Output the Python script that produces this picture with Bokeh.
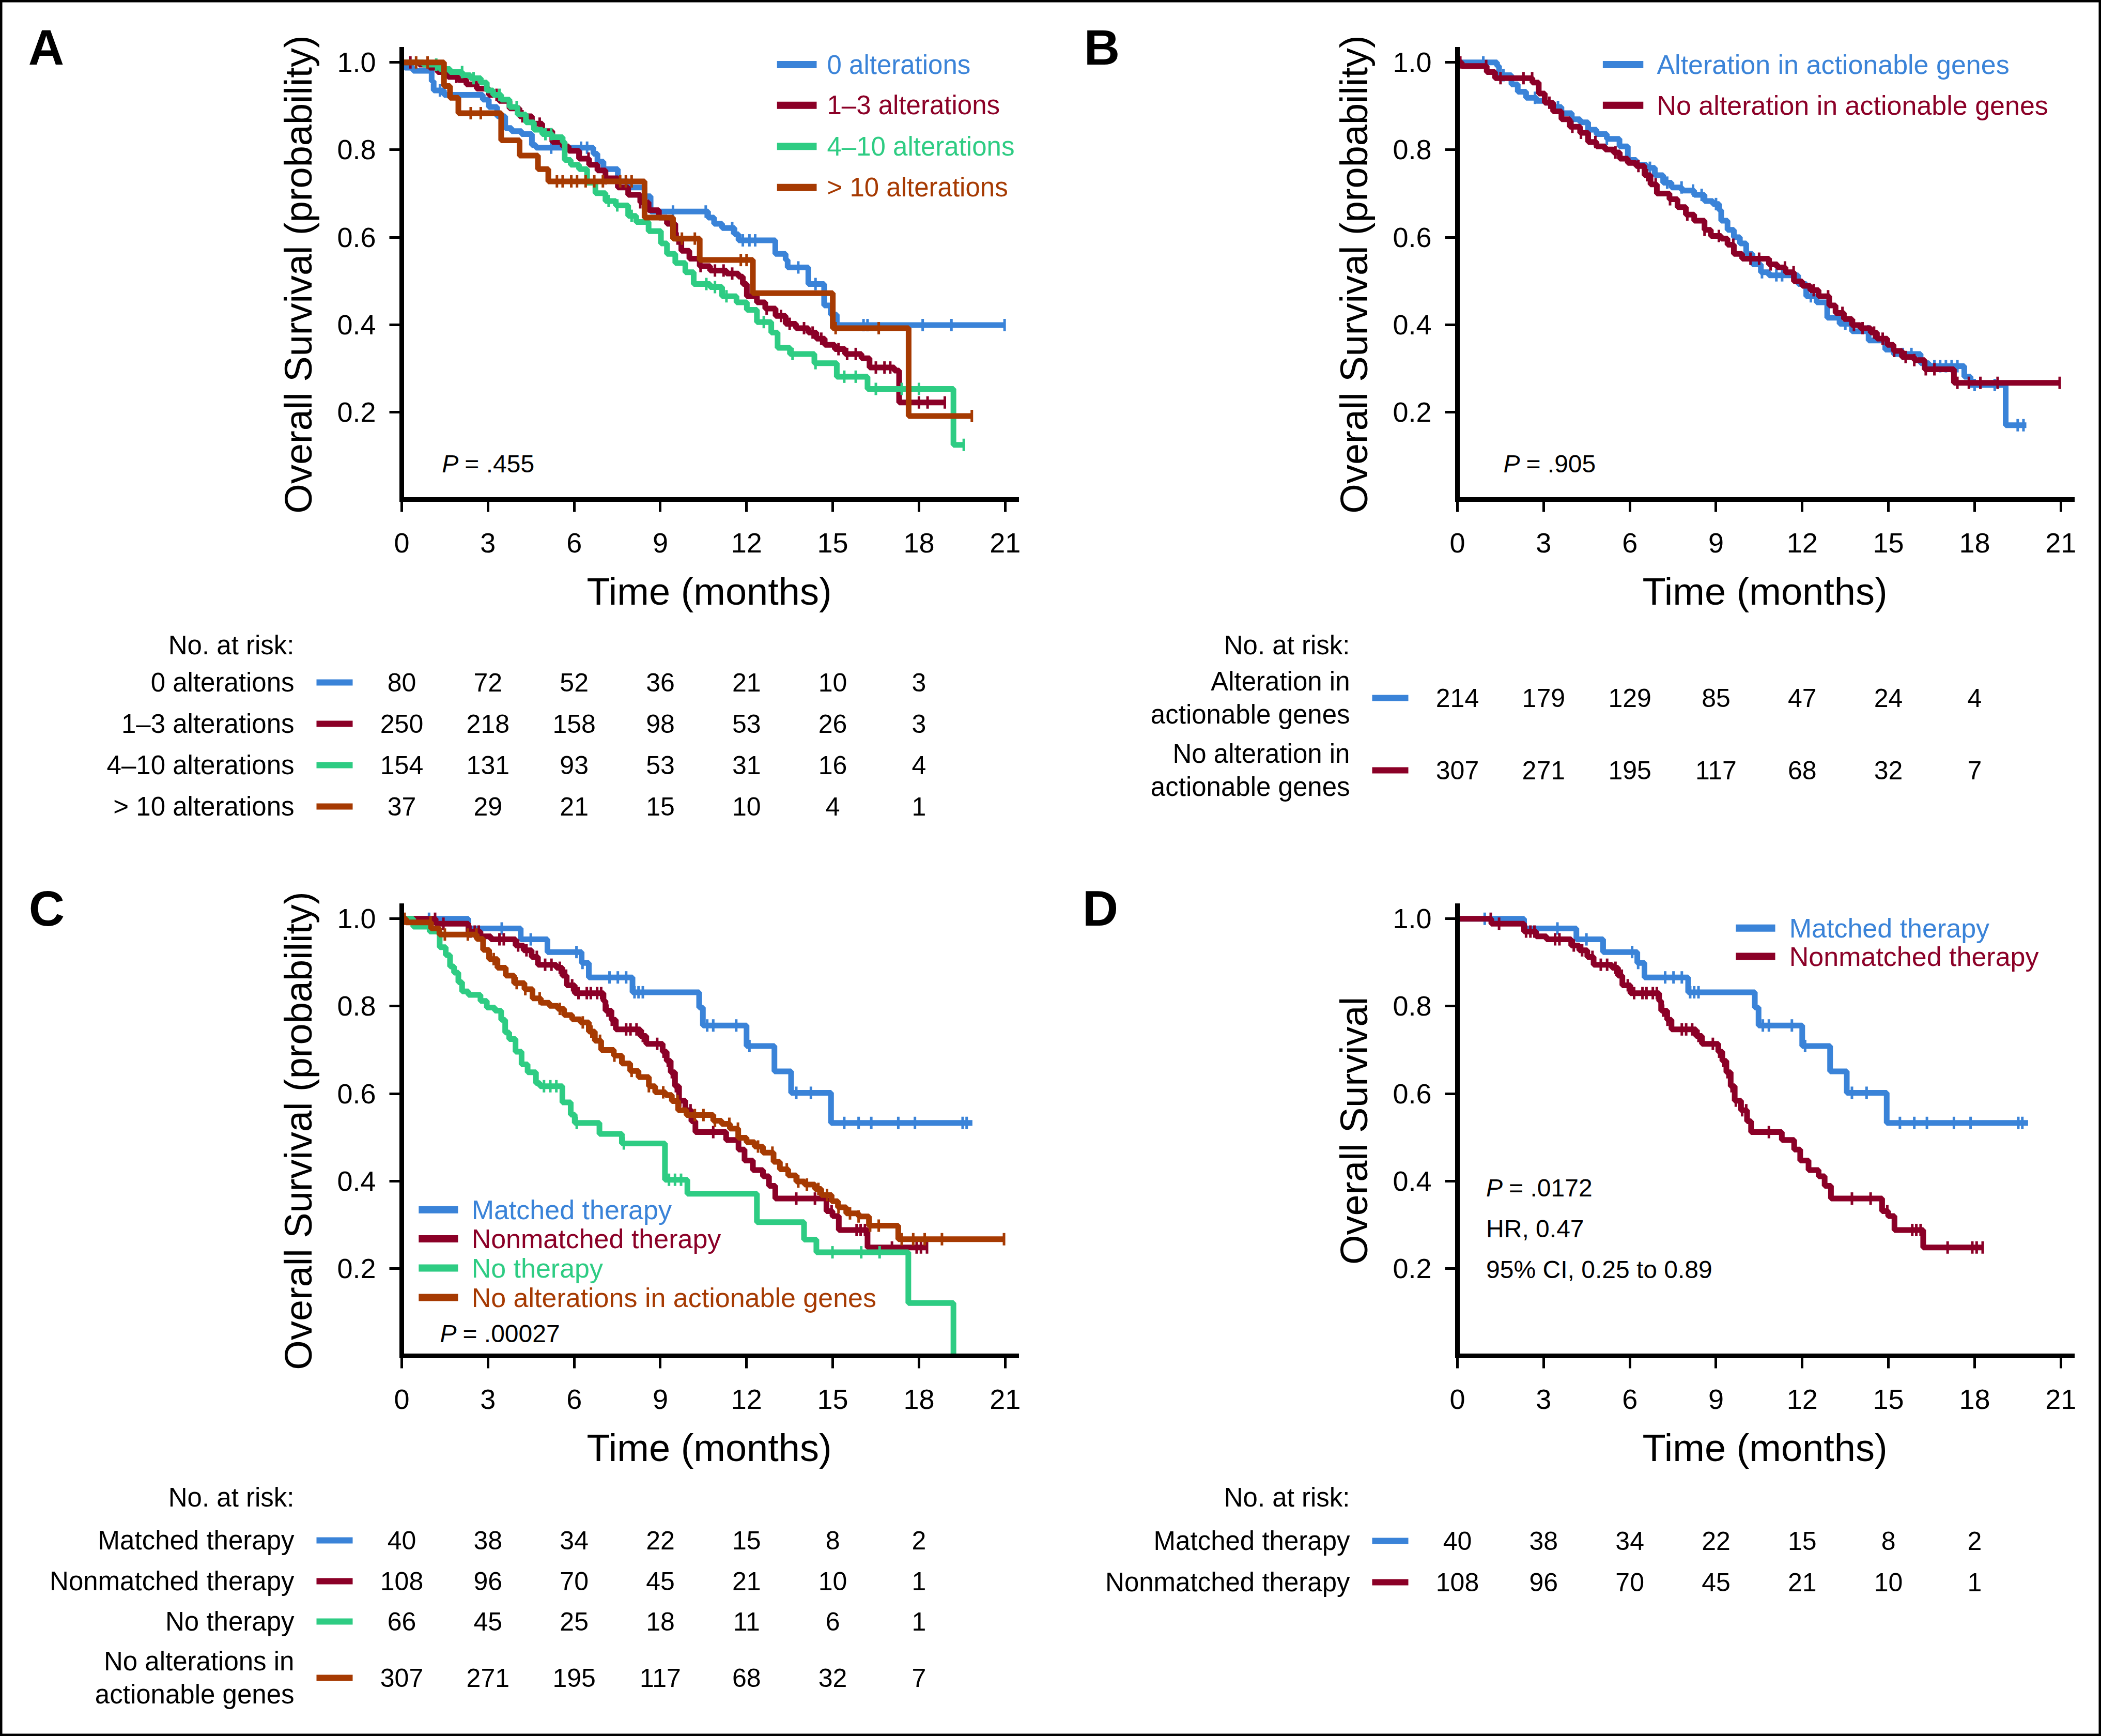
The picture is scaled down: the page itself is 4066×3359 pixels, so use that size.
import numpy as np
from bokeh.plotting import figure
from bokeh.models import Range1d, FixedTicker, NumeralTickFormatter
from bokeh.embed import file_html
from bokeh.resources import INLINE
from bokeh.core.properties import value

FONT = "Liberation Sans"
BLUE = "#3a83d8"
RED = "#8b0027"
GREEN = "#2ecc83"
ORANGE = "#a63a02"

X_TICKS = [0, 3, 6, 9, 12, 15, 18, 21]
Y_TICKS = [0.2, 0.4, 0.6, 0.8, 1.0]
RISK_TIMES = [0, 3, 6, 9, 12, 15, 18]

# ---------------- Panel A: number of alterations ----------------
A_ZERO = [(0, 1.0), (0.11, 0.988), (0.40, 0.981), (1.04, 0.957), (1.11, 0.936), (1.47, 0.926),
          (2.82, 0.915), (3.03, 0.898), (3.32, 0.877), (3.60, 0.850), (3.82, 0.843), (4.17, 0.836),
          (4.53, 0.811), (4.67, 0.805), (6.67, 0.791), (6.81, 0.773), (7.02, 0.756), (7.52, 0.728),
          (7.88, 0.714), (8.45, 0.694), (8.66, 0.659), (10.66, 0.645), (10.87, 0.631), (11.15, 0.621),
          (11.58, 0.607), (11.72, 0.593), (13.00, 0.562), (13.36, 0.548), (13.43, 0.531), (14.15, 0.493),
          (14.70, 0.444), (14.93, 0.423), (15.14, 0.399), (21.0, 0.399)]
A_ZERO_CENS = [1.33, 5.2, 6.24, 6.45, 7.88, 9.44, 10.58, 11.5, 11.87, 12.1, 12.3, 13.8, 14.4,
               16.07, 16.21, 18.13, 19.13, 20.98]

A_ONE3 = [(0, 1.0), (0.61, 0.995), (0.97, 0.988), (1.25, 0.978), (1.61, 0.967), (1.97, 0.960),
          (2.25, 0.950), (2.61, 0.940), (3.03, 0.926), (3.39, 0.912), (3.75, 0.895), (4.10, 0.877),
          (4.53, 0.860), (4.89, 0.843), (5.24, 0.818), (5.60, 0.808), (5.81, 0.798), (6.17, 0.780),
          (6.52, 0.766), (6.81, 0.753), (7.09, 0.735), (7.52, 0.714), (7.88, 0.697), (8.30, 0.680),
          (8.59, 0.662), (8.95, 0.645), (9.23, 0.631), (9.52, 0.597), (9.73, 0.569), (10.01, 0.551),
          (10.37, 0.534), (10.73, 0.524), (11.30, 0.517), (11.72, 0.510), (11.87, 0.493), (12.01, 0.465),
          (12.36, 0.451), (12.65, 0.437), (13.01, 0.420), (13.36, 0.402), (13.72, 0.392), (14.15, 0.382),
          (14.43, 0.368), (14.72, 0.354), (15.07, 0.344), (15.43, 0.333), (16.00, 0.323), (16.28, 0.302),
          (17.14, 0.295), (17.31, 0.222), (18.92, 0.222)]
A_ONE3_CENS = [0.3, 1.9, 2.6, 3.3, 4.2, 4.8, 6.5, 7.1, 8.3, 9.6, 10.4, 10.9, 11.2, 11.5, 12.7, 13.2,
               13.5, 14.0, 14.3, 14.6, 15.2, 15.5, 15.8, 16.5, 16.8, 17.0, 17.6, 18.0, 18.3, 18.9]

A_FOUR10 = [(0, 1.0), (0.75, 0.995), (1.32, 0.985), (1.68, 0.978), (2.11, 0.971), (2.39, 0.964),
            (2.75, 0.954), (2.96, 0.936), (3.18, 0.926), (3.46, 0.915), (3.75, 0.898), (4.03, 0.881),
            (4.32, 0.863), (4.60, 0.846), (4.89, 0.836), (5.24, 0.829), (5.60, 0.818), (5.67, 0.777),
            (5.88, 0.766), (6.17, 0.756), (6.45, 0.725), (6.74, 0.701), (7.09, 0.683), (7.45, 0.673),
            (7.88, 0.649), (8.16, 0.635), (8.59, 0.614), (9.02, 0.586), (9.23, 0.562), (9.52, 0.541),
            (9.87, 0.520), (10.16, 0.493), (10.73, 0.486), (11.15, 0.465), (11.65, 0.451), (12.01, 0.434),
            (12.36, 0.406), (12.86, 0.382), (13.08, 0.347), (13.51, 0.333), (14.36, 0.312), (15.14, 0.281),
            (16.21, 0.253), (19.20, 0.125), (19.56, 0.125)]
A_FOUR10_CENS = [0.0, 1.2, 2.1, 2.5, 3.4, 4.0, 5.0, 5.2, 7.2, 7.5, 8.0, 10.6, 10.9, 11.3, 12.6, 13.6,
                 14.4, 15.4, 15.8, 16.5, 17.4, 17.6, 18.0, 19.56]

A_OVER10 = [(0, 1.0), (1.47, 0.946), (1.68, 0.919), (1.97, 0.884), (3.46, 0.822), (4.10, 0.787),
            (4.74, 0.756), (5.10, 0.728), (8.45, 0.645), (9.44, 0.597), (10.37, 0.548), (12.22, 0.472),
            (15.0, 0.392), (17.64, 0.191), (19.84, 0.191)]
A_OVER10_CENS = [0.5, 0.9, 2.4, 2.75, 5.4, 5.6, 5.9, 6.1, 6.4, 6.7, 7.0, 7.6, 7.8, 8.0, 9.75, 10.2,
                 11.8, 12.0, 15.1, 16.6, 19.84]

A_LABELS = ["0 alterations", "1\u20133 alterations", "4\u201310 alterations", "> 10 alterations"]
A_RISK = [[80, 72, 52, 36, 21, 10, 3],
          [250, 218, 158, 98, 53, 26, 3],
          [154, 131, 93, 53, 31, 16, 4],
          [37, 29, 21, 15, 10, 4, 1]]

# ---------------- Panel B: actionable genes ----------------
B_ALT = [(0, 1.0), (1.38, 0.992), (1.45, 0.971), (1.88, 0.950), (2.10, 0.933), (2.39, 0.919),
         (2.75, 0.912), (3.04, 0.908), (3.33, 0.898), (3.62, 0.884), (3.98, 0.870), (4.27, 0.863),
         (4.55, 0.846), (4.84, 0.836), (5.20, 0.825), (5.64, 0.808), (5.93, 0.777), (6.22, 0.766),
         (6.58, 0.759), (6.87, 0.742), (7.16, 0.725), (7.45, 0.714), (7.81, 0.707), (8.24, 0.697),
         (8.60, 0.683), (8.89, 0.676), (9.11, 0.662), (9.18, 0.638), (9.40, 0.617), (9.62, 0.600),
         (9.83, 0.586), (10.05, 0.562), (10.27, 0.538), (10.56, 0.520), (10.84, 0.513), (11.86, 0.493),
         (12.14, 0.465), (12.50, 0.451), (12.87, 0.416), (13.30, 0.402), (13.73, 0.385), (14.31, 0.364),
         (14.89, 0.343), (15.18, 0.333), (16.12, 0.312), (16.41, 0.305), (17.64, 0.281), (17.86, 0.262),
         (19.08, 0.170), (19.80, 0.170)]
B_ALT_CENS = [0.9, 1.6, 2.7, 3.5, 4.0, 4.6, 5.2, 6.7, 7.3, 7.8, 8.2, 8.5, 9.0, 10.6, 11.1, 11.3, 12.3,
              13.5, 14.3, 15.5, 15.8, 16.6, 16.8, 17.0, 17.2, 17.4, 18.0, 18.7, 19.5, 19.7]

B_NOALT = [(0, 1.0), (0.15, 0.992), (1.02, 0.978), (1.31, 0.964), (2.61, 0.954), (2.83, 0.929),
           (3.04, 0.908), (3.33, 0.888), (3.62, 0.870), (3.91, 0.853), (4.27, 0.839), (4.55, 0.818),
           (4.84, 0.808), (5.14, 0.801), (5.43, 0.794), (5.65, 0.780), (5.93, 0.770), (6.22, 0.763),
           (6.51, 0.742), (6.72, 0.721), (6.94, 0.700), (7.38, 0.687), (7.66, 0.669), (7.95, 0.652),
           (8.24, 0.638), (8.60, 0.617), (8.82, 0.603), (9.18, 0.597), (9.40, 0.583), (9.62, 0.562),
           (9.91, 0.551), (10.84, 0.538), (11.13, 0.531), (11.42, 0.520), (11.71, 0.499), (12.00, 0.489),
           (12.28, 0.479), (12.57, 0.465), (12.94, 0.444), (13.16, 0.427), (13.45, 0.413), (13.73, 0.399),
           (14.02, 0.392), (14.38, 0.382), (14.60, 0.368), (14.96, 0.354), (15.18, 0.340), (15.47, 0.326),
           (15.90, 0.319), (16.26, 0.298), (17.28, 0.267), (20.96, 0.267)]
B_NOALT_CENS = [0.1, 1.0, 1.5, 2.3, 2.6, 3.2, 4.0, 4.3, 4.8, 5.5, 6.3, 6.6, 6.9, 7.4, 8.0, 8.6, 9.1,
                9.6, 10.2, 10.5, 10.9, 11.4, 11.7, 12.4, 12.9, 13.4, 13.8, 14.1, 14.5, 14.8, 15.2, 15.6,
                15.9, 16.3, 16.6, 17.4, 17.8, 18.2, 18.8, 20.96]

B_LABELS = ["Alteration in actionable genes", "No alteration in actionable genes"]
B_RISK_LABELS = ["Alteration in\nactionable genes", "No alteration in\nactionable genes"]
B_RISK = [[214, 179, 129, 85, 47, 24, 4],
          [307, 271, 195, 117, 68, 32, 7]]

# ---------------- Panels C and D: therapy groups ----------------
MATCHED = [(0, 1.0), (2.32, 0.978), (4.14, 0.953), (5.07, 0.924), (6.26, 0.899), (6.51, 0.866),
           (8.03, 0.832), (10.35, 0.797), (10.48, 0.756), (12.0, 0.709), (12.97, 0.651), (13.55, 0.602),
           (14.94, 0.533), (19.86, 0.533)]
MATCHED_CENS = [0.95, 3.48, 4.49, 6.08, 6.29, 7.23, 7.52, 7.81, 8.10, 8.24, 8.39, 10.63, 10.84, 11.64,
                12.1, 13.73, 14.24, 15.4, 15.9, 16.34, 17.28, 17.86, 19.52, 19.66]

NONMATCHED = [(0, 1.0), (1.18, 0.989), (2.32, 0.971), (2.74, 0.960), (3.10, 0.953), (3.96, 0.939),
              (4.24, 0.928), (4.52, 0.913), (4.74, 0.895), (5.38, 0.888), (5.59, 0.870), (5.74, 0.848),
              (6.02, 0.830), (7.02, 0.812), (7.09, 0.790), (7.30, 0.769), (7.45, 0.747), (8.30, 0.732),
              (8.51, 0.714), (9.08, 0.696), (9.22, 0.675), (9.36, 0.649), (9.51, 0.617), (9.65, 0.584),
              (9.87, 0.562), (10.08, 0.537), (10.22, 0.512), (11.29, 0.494), (11.72, 0.472), (11.93, 0.447),
              (12.22, 0.425), (12.57, 0.411), (12.78, 0.389), (13.00, 0.360), (14.78, 0.331), (14.99, 0.320),
              (15.21, 0.288), (16.21, 0.248), (18.28, 0.248)]
NONMATCHED_CENS = [1.16, 1.45, 2.39, 2.54, 2.68, 3.40, 3.55, 4.05, 4.34, 4.70, 4.99, 5.21, 5.50, 5.72,
                   5.93, 6.15, 6.44, 6.58, 6.80, 6.94, 7.16, 7.31, 7.81, 7.96, 8.17, 8.39, 8.89, 9.11,
                   9.26, 9.40, 9.54, 9.69, 9.91, 10.05, 10.84, 13.73, 14.38, 14.96, 15.83, 15.97, 16.12,
                   17.06, 17.92, 18.07, 18.28]

NO_THERAPY = [(0, 1.0), (0.40, 0.982), (0.97, 0.971), (1.32, 0.935), (1.53, 0.917), (1.68, 0.891),
              (1.82, 0.877), (1.97, 0.855), (2.10, 0.834), (2.32, 0.826), (2.74, 0.812), (2.96, 0.797),
              (3.24, 0.790), (3.46, 0.769), (3.60, 0.740), (3.74, 0.725), (3.96, 0.696), (4.17, 0.667),
              (4.38, 0.649), (4.67, 0.624), (4.81, 0.617), (5.59, 0.580), (5.88, 0.552), (6.02, 0.533),
              (6.88, 0.508), (7.66, 0.486), (9.16, 0.403), (9.94, 0.371), (12.36, 0.306), (14.0, 0.266),
              (14.43, 0.237), (17.63, 0.121), (19.20, 0.0)]
NO_THERAPY_CENS = [0.0, 4.95, 5.17, 5.38, 6.09, 7.73, 9.30, 9.51, 9.72, 14.99, 15.99, 16.63]

C_LABELS = ["Matched therapy", "Nonmatched therapy", "No therapy", "No alterations in actionable genes"]
C_RISK_LABELS = ["Matched therapy", "Nonmatched therapy", "No therapy", "No alterations in\nactionable genes"]
C_RISK = [[40, 38, 34, 22, 15, 8, 2],
          [108, 96, 70, 45, 21, 10, 1],
          [66, 45, 25, 18, 11, 6, 1],
          [307, 271, 195, 117, 68, 32, 7]]
D_LABELS = ["Matched therapy", "Nonmatched therapy"]
D_RISK = [[40, 38, 34, 22, 15, 8, 2],
          [108, 96, 70, 45, 21, 10, 1]]

PANEL_LETTERS = ["A", "B", "C", "D"]

# ---------------- geometry (page pixels) ----------------
X_END = 21.4
Y_END = 1.03
FRAME_W = 1190
FRAME_H = 871
TOP = 95
BOTTOM = 242
AXIS_X0 = 777          # distance of the y axis from a quadrant's left edge
PPM = FRAME_W / X_END  # pixels per month
W_LEFT = 2043
W_RIGHT = 2023
PLOT_H = TOP + FRAME_H + BOTTOM   # 1208
TOP_ROW_H = 1657
TOTAL_W = 4066
TOTAL_H = 3359


def place(fig, left, top):
    fig.styles = {"position": "absolute", "left": f"{left}px", "top": f"{top}px"}
    return fig


def steps(pairs):
    t = np.array([p[0] for p in pairs], dtype=float)
    s = np.array([p[1] for p in pairs], dtype=float)
    return t, s


def add_curve(p, pairs, cens, color):
    t, s = steps(pairs)
    p.step(t, s, mode="after", line_color=color, line_width=11)
    c = np.array(cens, dtype=float)
    idx = np.clip(np.searchsorted(t, c, side="right") - 1, 0, len(s) - 1)
    p.scatter(c, s[idx], marker="dash", angle=np.pi / 2, size=24, line_color=color, line_width=5)


def km_figure(width, curves, ylabel, legend, pnote, legend_size="52px", extra_notes=None):
    p = figure(width=width, height=PLOT_H, x_range=Range1d(0, X_END), y_range=Range1d(0, Y_END),
               min_border_left=AXIS_X0, min_border_right=width - AXIS_X0 - FRAME_W,
               min_border_top=TOP, min_border_bottom=BOTTOM,
               toolbar_location=None, output_backend="svg",
               background_fill_color="white", border_fill_color="white", outline_line_color=None)
    p.grid.visible = False
    xa = p.xaxis[0]
    ya = p.yaxis[0]
    xa.ticker = FixedTicker(ticks=X_TICKS)
    ya.ticker = FixedTicker(ticks=Y_TICKS)
    ya.formatter = NumeralTickFormatter(format="0.0")
    for ax in (xa, ya):
        ax.axis_line_width = 9
        ax.axis_line_color = "black"
        ax.axis_line_cap = "square"
        ax.major_tick_line_width = 5
        ax.major_tick_line_color = "black"
        ax.major_tick_out = 24
        ax.major_tick_in = 0
        ax.minor_tick_line_color = None
        ax.major_label_text_font = FONT
        ax.major_label_text_font_size = "54px"
        ax.major_label_text_color = "black"
        ax.axis_label_text_font = FONT
        ax.axis_label_text_font_size = "74px"
        ax.axis_label_text_font_style = "normal"
        ax.axis_label_text_color = "black"
    xa.axis_label = "Time (months)"
    ya.axis_label = ylabel
    xa.major_label_standoff = 41
    ya.major_label_standoff = 26
    xa.axis_label_standoff = 31
    ya.axis_label_standoff = 30

    for pairs, cens, color in curves:
        add_curve(p, pairs, cens, color)

    lx0, lx1, tx, rows = legend
    for label, color, ly in rows:
        p.segment(x0=[lx0], y0=[ly], x1=[lx1], y1=[ly], line_color=color, line_width=14)
        p.text(x=[tx], y=[ly], text=[label], text_color=color, text_font=value(FONT),
               text_font_size=legend_size, text_baseline="middle", text_align="left")

    px, py, ptxt = pnote
    p.text(x=[px], y=[py], text=["P"], text_font=value(FONT), text_font_style="italic",
           text_font_size="48px", text_baseline="middle", text_align="left", text_color="black")
    p.text(x=[px], y=[py], text=[ptxt], x_offset=44, text_font=value(FONT),
           text_font_size="48px", text_baseline="middle", text_align="left", text_color="black")
    if extra_notes:
        for ex, ey, etxt in extra_notes:
            p.text(x=[ex], y=[ey], text=[etxt], text_font=value(FONT), text_font_size="48px",
                   text_baseline="middle", text_align="left", text_color="black")
    return p


def risk_figure(width, height, header_y, labels, colors, counts, row_ys):
    t = figure(width=width, height=height,
               x_range=Range1d(-AXIS_X0 / PPM, (width - AXIS_X0) / PPM), y_range=Range1d(height, 0),
               min_border=0, min_border_left=0, min_border_right=0, min_border_top=0, min_border_bottom=0,
               x_axis_type=None, y_axis_type=None, toolbar_location=None, output_backend="svg",
               background_fill_color="white", border_fill_color="white", outline_line_color=None)
    t.grid.visible = False
    lab_x = -208 / PPM
    d0 = -165 / PPM
    d1 = -95 / PPM
    t.text(x=[lab_x], y=[header_y], text=["No. at risk:"], text_font=value(FONT),
           text_font_size="51px", text_align="right", text_baseline="middle", text_color="black")
    for lab, col, cnt, ry in zip(labels, colors, counts, row_ys):
        t.text(x=[lab_x], y=[ry], text=[lab], text_font=value(FONT), text_font_size="51px",
               text_align="right", text_baseline="middle", text_color="black", text_line_height=1.12)
        t.segment(x0=[d0], y0=[ry], x1=[d1], y1=[ry], line_color=col, line_width=12)
        t.text(x=RISK_TIMES, y=[ry] * len(RISK_TIMES), text=[str(v) for v in cnt],
               text_font=value(FONT), text_font_size="50px", text_align="center",
               text_baseline="middle", text_color="black")
    return t


def letter_figure(letter):
    f = figure(width=160, height=160, x_range=Range1d(0, 160), y_range=Range1d(0, 160),
               min_border=0, min_border_left=0, min_border_right=0, min_border_top=0, min_border_bottom=0,
               x_axis_type=None, y_axis_type=None, toolbar_location=None, output_backend="svg",
               background_fill_color=None, border_fill_color=None, outline_line_color=None)
    f.grid.visible = False
    f.text(x=[80], y=[80], text=[letter], text_font=value(FONT), text_font_style="bold",
           text_font_size="96px", text_align="center", text_baseline="middle", text_color="black")
    return f


pA = km_figure(W_LEFT,
               [(A_ZERO, A_ZERO_CENS, BLUE), (A_ONE3, A_ONE3_CENS, RED),
                (A_FOUR10, A_FOUR10_CENS, GREEN), (A_OVER10, A_OVER10_CENS, ORANGE)],
               "Overall Survival (probability)",
               (13.06, 14.44, 14.80, [(A_LABELS[0], BLUE, 0.995), (A_LABELS[1], RED, 0.902),
                                      (A_LABELS[2], GREEN, 0.808), (A_LABELS[3], ORANGE, 0.714)]),
               (1.40, 0.082, "= .455"), legend_size="51px")
tA = risk_figure(W_LEFT, TOP_ROW_H - PLOT_H, 40, A_LABELS, [BLUE, RED, GREEN, ORANGE], A_RISK,
                 [112, 192, 272, 352])

pB = km_figure(W_RIGHT,
               [(B_ALT, B_ALT_CENS, BLUE), (B_NOALT, B_NOALT_CENS, RED)],
               "Overall Survival (probability)",
               (5.06, 6.47, 6.94, [(B_LABELS[0], BLUE, 0.995), (B_LABELS[1], RED, 0.902)]),
               (1.60, 0.082, "= .905"))
tB = risk_figure(W_RIGHT, TOP_ROW_H - PLOT_H, 40, B_RISK_LABELS, [BLUE, RED], B_RISK, [142, 282])

pC = km_figure(W_LEFT,
               [(MATCHED, MATCHED_CENS, BLUE), (NONMATCHED, NONMATCHED_CENS, RED),
                (NO_THERAPY, NO_THERAPY_CENS, GREEN), (B_NOALT, B_NOALT_CENS, ORANGE)],
               "Overall Survival (probability)",
               (0.59, 1.96, 2.43, [(C_LABELS[0], BLUE, 0.3345), (C_LABELS[1], RED, 0.2677),
                                   (C_LABELS[2], GREEN, 0.2009), (C_LABELS[3], ORANGE, 0.1336)]),
               (1.33, 0.051, "= .00027"))
BOTTOM_TABLE_H = TOTAL_H - TOP_ROW_H - PLOT_H
tC = risk_figure(W_LEFT, BOTTOM_TABLE_H, 32, C_RISK_LABELS, [BLUE, RED, GREEN, ORANGE], C_RISK,
                 [115, 194, 272, 381])

pD = km_figure(W_RIGHT,
               [(MATCHED, MATCHED_CENS, BLUE), (NONMATCHED, NONMATCHED_CENS, RED)],
               "Overall Survival",
               (9.69, 11.06, 11.55, [(D_LABELS[0], BLUE, 0.979), (D_LABELS[1], RED, 0.914)]),
               (1.0, 0.384, "= .0172"),
               extra_notes=[(1.0, 0.291, "HR, 0.47"), (1.0, 0.197, "95% CI, 0.25 to 0.89")])
tD = risk_figure(W_RIGHT, BOTTOM_TABLE_H, 32, D_LABELS, [BLUE, RED], D_RISK, [116, 196])

place(pA, 0, 0)
place(tA, 0, PLOT_H)
place(pB, W_LEFT, 0)
place(tB, W_LEFT, PLOT_H)
place(pC, 0, TOP_ROW_H)
place(tC, 0, TOP_ROW_H + PLOT_H)
place(pD, W_LEFT, TOP_ROW_H)
place(tD, W_LEFT, TOP_ROW_H + PLOT_H)

# panel letters: figure centred on the letter's visual centre
letter_centres = [(89, 91), (2132, 91), (90, 1757), (2129, 1757)]
letter_figs = [place(letter_figure(L), cx - 80, cy - 80)
               for L, (cx, cy) in zip(PANEL_LETTERS, letter_centres)]

frame_fig = figure(width=TOTAL_W, height=TOTAL_H, x_range=Range1d(0, 1), y_range=Range1d(0, 1),
                   min_border=0, min_border_left=0, min_border_right=0, min_border_top=0,
                   min_border_bottom=0, x_axis_type=None, y_axis_type=None, toolbar_location=None,
                   output_backend="svg", background_fill_color=None, border_fill_color=None,
                   outline_line_color="black", outline_line_width=8)
frame_fig.grid.visible = False
place(frame_fig, 0, 0)

roots = [pA, tA, pB, tB, pC, tC, pD, tD] + letter_figs + [frame_fig]
open("out.html", "w").write(file_html(roots, INLINE))
